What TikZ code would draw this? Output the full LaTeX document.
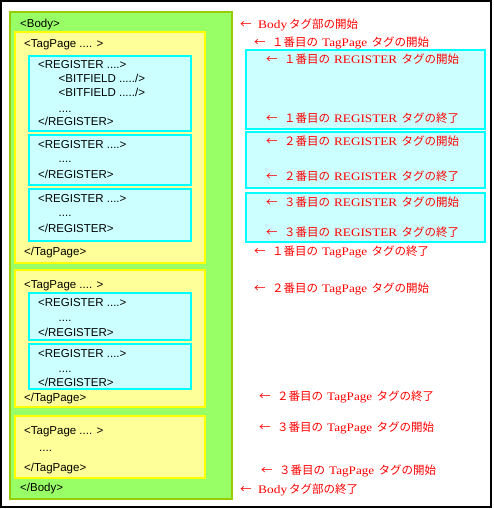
\documentclass[tikz,border=0pt]{standalone}
\usepackage{fontspec}
\usepackage{graphicx}
\setmainfont{Liberation Sans}
\newfontfamily\jpfont{Noto Sans CJK JP}
\newfontfamily\serifl{Liberation Serif}
\newcommand\arr{\makebox[11pt][l]{←}\hspace{7pt}}
\newcommand\lat[2]{\hspace{4pt}\resizebox{#1}{\height}{\serifl #2}\hspace{4.5pt}}
\definecolor{bodyfill}{HTML}{99FF66}
\definecolor{bodyedge}{HTML}{99CC00}
\definecolor{pagefill}{HTML}{FFFF99}
\definecolor{pageedge}{HTML}{FFFF00}
\definecolor{regfill}{HTML}{CCFFFF}
\definecolor{regedge}{HTML}{00FFFF}
\definecolor{notered}{HTML}{FF0000}
\begin{document}
\begin{tikzpicture}[x=1pt,y=-1pt,
  bodybox/.style={draw=bodyedge,fill=bodyfill,line width=2pt},
  pagebox/.style={draw=pageedge,fill=pagefill,line width=1.5pt},
  regbox/.style={draw=regedge,fill=regfill,line width=1.5pt},
  code/.style={anchor=base west,inner sep=0pt,font=\fontsize{11.5}{13}\selectfont,text=black},
  note/.style={anchor=base west,inner sep=0pt,font=\jpfont\fontsize{11.5}{13}\selectfont,text=notered}]
\useasboundingbox (0,0) rectangle (493,509);
\fill[white] (0,0) rectangle (493,509);
\draw[line width=2pt] (1,1) rectangle (491,507);
% boxes
\draw[bodybox] (10,12) rectangle (232,499);
\draw[pagebox] (15,32) rectangle (205,263);
\draw[pagebox] (15,270) rectangle (205,407);
\draw[pagebox] (15,416) rectangle (205,478);
\draw[regbox] (29,56) rectangle (191,131);
\draw[regbox] (29,135) rectangle (191,185);
\draw[regbox] (29,189) rectangle (191,241);
\draw[regbox] (29,293) rectangle (191,340);
\draw[regbox] (29,344) rectangle (191,389);
\draw[regbox] (246,50) rectangle (485,129);
\draw[regbox] (246,132) rectangle (485,188);
\draw[regbox] (246,193) rectangle (485,242);
% code text
\node[code] (b1) at (20,27.5) {<Body>};
\node[code] (p1) at (24,47) {<TagPage .... >};
\node[code] (r1a) at (38,68) {<REGISTER ....>};
\node[code] (f1) at (58.5,82) {<BITFIELD ...../>};
\node[code] (f2) at (58.5,96.5) {<BITFIELD ...../>};
\node[code] (d1) at (58.5,112) {....};
\node[code] (r1b) at (38,125.5) {</REGISTER>};
\node[code] (r2a) at (38,148) {<REGISTER ....>};
\node[code] (d2) at (58.5,162) {....};
\node[code] (r2b) at (38,178) {</REGISTER>};
\node[code] (r3a) at (38,202) {<REGISTER ....>};
\node[code] (d3) at (58.5,216.5) {....};
\node[code] (r3b) at (38,232.5) {</REGISTER>};
\node[code] (p1b) at (24,255) {</TagPage>};
\node[code] (p2) at (24,288) {<TagPage .... >};
\node[code] (r4a) at (38,306.5) {<REGISTER ....>};
\node[code] (d4) at (58.5,321.5) {....};
\node[code] (r4b) at (38,336.5) {</REGISTER>};
\node[code] (r5a) at (38,357) {<REGISTER ....>};
\node[code] (d5) at (58.5,372) {....};
\node[code] (r5b) at (38,386.5) {</REGISTER>};
\node[code] (p2b) at (24,401.5) {</TagPage>};
\node[code] (p3) at (24,434) {<TagPage .... >};
\node[code] (d6) at (39,451) {....};
\node[code] (p3b) at (24,471.5) {</TagPage>};
\node[code] (b2) at (20,491.5) {</Body>};
% notes
\node[note] (n1) at (240,28) {\arr\resizebox{29pt}{\height}{\serifl Body}\hspace{2pt}タグ部の開始};
\node[note] (n2) at (254,46.5) {\arr １番目の\lat{45pt}{TagPage}タグの開始};
\node[note] (n3) at (266,63) {\arr １番目の\lat{63pt}{REGISTER}タグの開始};
\node[note] (n4) at (266,122) {\arr １番目の\lat{63pt}{REGISTER}タグの終了};
\node[note] (n5) at (266,145) {\arr ２番目の\lat{63pt}{REGISTER}タグの開始};
\node[note] (n6) at (266,180) {\arr ２番目の\lat{63pt}{REGISTER}タグの終了};
\node[note] (n7) at (266,206) {\arr ３番目の\lat{63pt}{REGISTER}タグの開始};
\node[note] (n8) at (266,236.5) {\arr ３番目の\lat{63pt}{REGISTER}タグの終了};
\node[note] (n9) at (254,255) {\arr １番目の\lat{45pt}{TagPage}タグの終了};
\node[note] (n10) at (254,292) {\arr ２番目の\lat{45pt}{TagPage}タグの開始};
\node[note] (n11) at (259,400) {\arr ２番目の\lat{45pt}{TagPage}タグの終了};
\node[note] (n12) at (259,431) {\arr ３番目の\lat{45pt}{TagPage}タグの開始};
\node[note] (n13) at (261,474) {\arr ３番目の\lat{45pt}{TagPage}タグの開始};
\node[note] (n14) at (240,493) {\arr\resizebox{29pt}{\height}{\serifl Body}\hspace{2pt}タグ部の終了};
\end{tikzpicture}
\end{document}
